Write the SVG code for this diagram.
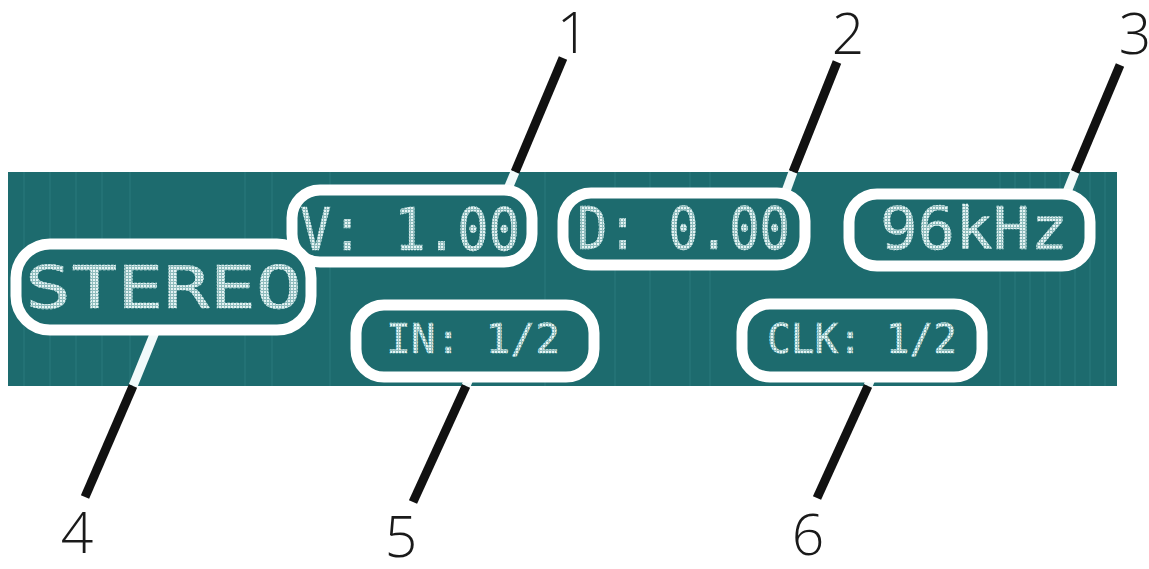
<svg xmlns="http://www.w3.org/2000/svg" width="1149" height="569" viewBox="0 0 1149 569">
<defs>
<style>
.pill{fill:#1d6b6e;stroke:#ffffff;stroke-width:11}
.lcd{font-family:"DejaVu Sans Mono","Liberation Mono",monospace;fill:url(#dots);stroke:#d6ecec;stroke-width:0.5;stroke-dasharray:2 1.2}
.big{font-size:58px}
.small{font-size:40px}
.num{font-family:"Open Sans","Liberation Sans",sans-serif;font-weight:300;font-size:57px;fill:#1a1a1a;text-anchor:middle}
.blk{stroke:#111111;stroke-width:9;fill:none}
.wht{stroke:#f2fafa;stroke-width:9;fill:none}
.grid{stroke:#2f8084;stroke-width:1.2;opacity:0.6}
</style>
<pattern id="dots" width="3" height="3" patternUnits="userSpaceOnUse">
<rect width="3" height="3" fill="#8fbcbd"/>
<rect width="2" height="2" fill="#e4f3f3"/>
</pattern>
</defs>
<rect width="1149" height="569" fill="#ffffff"/>
<g id="panel">
<rect x="8" y="172" width="1109" height="214" fill="#1d6b6e"/>
<g class="grid">
<line x1="24" y1="172" x2="24" y2="386"/><line x1="50" y1="172" x2="50" y2="386"/>
<line x1="76" y1="172" x2="76" y2="386"/><line x1="102" y1="172" x2="102" y2="386"/>
<line x1="130" y1="172" x2="130" y2="386"/><line x1="245" y1="172" x2="245" y2="386"/>
<line x1="272" y1="172" x2="272" y2="386"/><line x1="330" y1="172" x2="330" y2="386"/>
<line x1="545" y1="172" x2="545" y2="386"/><line x1="615" y1="172" x2="615" y2="386"/>
<line x1="650" y1="172" x2="650" y2="386"/><line x1="690" y1="172" x2="690" y2="386"/>
<line x1="710" y1="172" x2="710" y2="386"/><line x1="1000" y1="172" x2="1000" y2="386"/>
<line x1="1015" y1="172" x2="1015" y2="386"/><line x1="1030" y1="172" x2="1030" y2="386"/>
<line x1="1045" y1="172" x2="1045" y2="386"/><line x1="1060" y1="172" x2="1060" y2="386"/>
<line x1="1075" y1="172" x2="1075" y2="386"/><line x1="1090" y1="172" x2="1090" y2="386"/>
<line x1="1105" y1="172" x2="1105" y2="386"/>
</g>
</g>
<g id="connectors">
<line class="blk" x1="563" y1="58" x2="515" y2="172"/>
<line class="wht" x1="515" y1="172" x2="507" y2="191"/>
<line class="blk" x1="837" y1="62" x2="793" y2="172"/>
<line class="wht" x1="793" y1="172" x2="785" y2="194"/>
<line class="blk" x1="1120" y1="65" x2="1075" y2="172"/>
<line class="wht" x1="1075" y1="172" x2="1067" y2="192"/>
<line class="wht" x1="155" y1="332" x2="133" y2="386"/>
<line class="blk" x1="133" y1="386" x2="85" y2="497"/>
<line class="wht" x1="470" y1="376" x2="466" y2="386"/>
<line class="blk" x1="466" y1="386" x2="413" y2="502"/>
<line class="wht" x1="872" y1="376" x2="868" y2="386"/>
<line class="blk" x1="868" y1="386" x2="817" y2="498"/>
</g>
<g id="node1">
<rect class="pill" x="292" y="190" width="240" height="72" rx="28"/>
<text class="lcd big" x="300" y="250" textLength="220" lengthAdjust="spacingAndGlyphs">V: 1.00</text>
</g>
<g id="node2">
<rect class="pill" x="563" y="193" width="242" height="72" rx="28"/>
<text class="lcd big" x="577" y="249" textLength="213" lengthAdjust="spacingAndGlyphs">D: 0.00</text>
</g>
<g id="node3">
<rect class="pill" x="849" y="194" width="241" height="72" rx="28"/>
<text class="lcd big" x="880" y="249" textLength="188" lengthAdjust="spacingAndGlyphs">96kHz</text>
</g>
<g id="node4">
<rect class="pill" x="16" y="244" width="295" height="86" rx="34"/>
<text class="lcd big" x="25" y="308" textLength="277" lengthAdjust="spacingAndGlyphs">STEREO</text>
</g>
<g id="node5">
<rect class="pill" x="356" y="305" width="238" height="72" rx="28"/>
<text class="lcd small" x="386" y="353" textLength="174" lengthAdjust="spacingAndGlyphs">IN: 1/2</text>
</g>
<g id="node6">
<rect class="pill" x="742" y="304" width="240" height="73" rx="28"/>
<text class="lcd small" x="767" y="353" textLength="190" lengthAdjust="spacingAndGlyphs">CLK: 1/2</text>
</g>
<g id="labels">
<text class="num" x="573" y="53">1</text>
<text class="num" x="848" y="54">2</text>
<text class="num" x="1135" y="54">3</text>
<text class="num" x="77" y="553">4</text>
<text class="num" x="401" y="557">5</text>
<text class="num" x="808" y="555">6</text>
</g>
</svg>
